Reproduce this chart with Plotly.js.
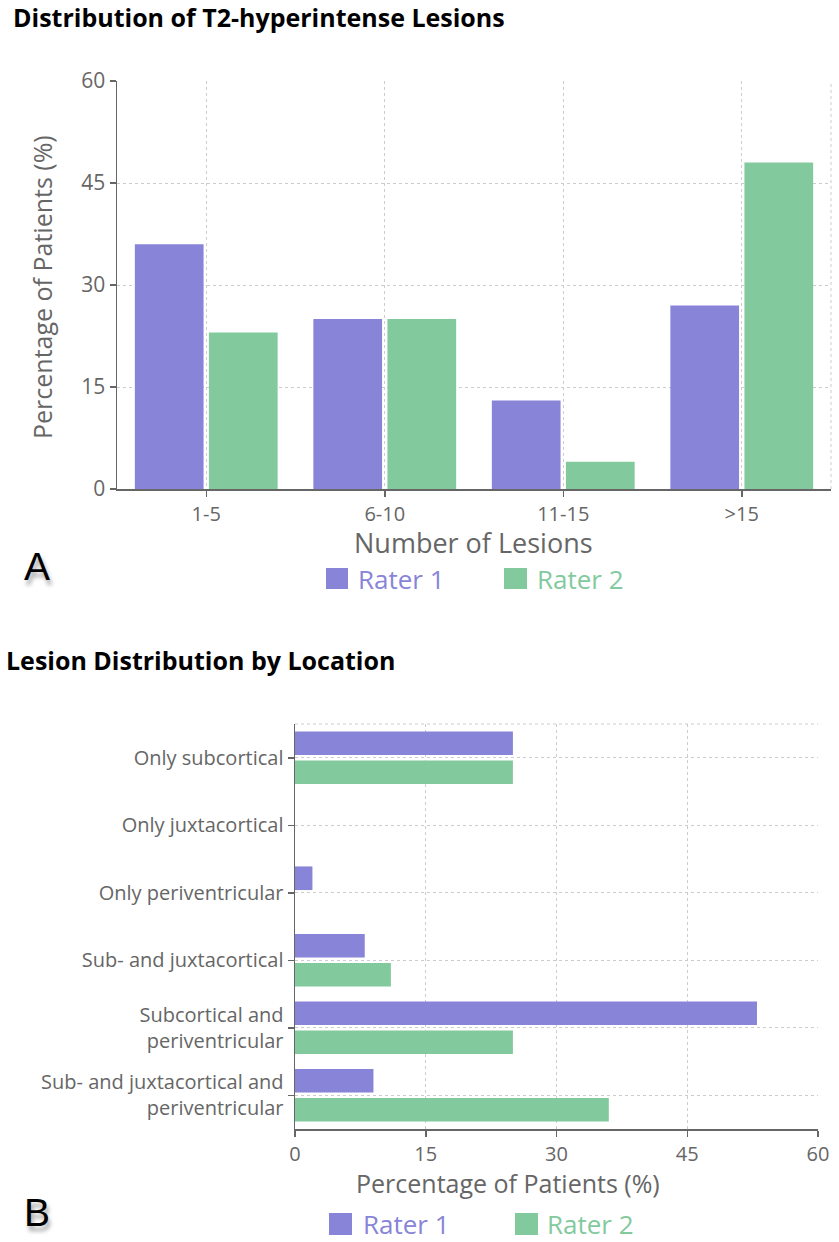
<!DOCTYPE html>
<html>
<head>
<meta charset="utf-8">
<script src="https://cdn.plot.ly/plotly-3.0.1.min.js"></script>
<style>
  html, body { margin: 0; padding: 0; background: #ffffff; }
  #chart { width: 839px; height: 1242px; }
</style>
</head>
<body>
<div id="chart"></div>
<script>
// ---------------- DATA ----------------
const lesionCountCategories = ['1-5', '6-10', '11-15', '>15'];
const lesionCountRater1 = [36, 25, 13, 27];
const lesionCountRater2 = [23, 25, 4, 48];

const locationCategories = [
  'Only subcortical',
  'Only juxtacortical',
  'Only periventricular',
  'Sub- and juxtacortical',
  'Subcortical and periventricular',
  'Sub- and juxtacortical and periventricular'
];
const locationTickLabels = [
  'Only subcortical',
  'Only juxtacortical',
  'Only periventricular',
  'Sub- and juxtacortical',
  'Subcortical and<br>periventricular',
  'Sub- and juxtacortical and<br>periventricular'
];
const locationRater1 = [25, 0, 2, 8, 53, 9];
const locationRater2 = [25, 0, 0, 11, 25, 36];

const percentTicks = [0, 15, 30, 45, 60];
const seriesNames = ['Rater 1', 'Rater 2'];

// ---------------- STYLE / LAYOUT ----------------
const W = 839, H = 1242;
const X = p => p / W;          // pixel -> paper x
const Y = p => 1 - p / H;      // pixel -> paper y
const C1 = '#8884d8', C2 = '#82ca9d';
const AXIS = '#666666', GRID = '#cccccc', FONT = 'Open Sans, Noto Sans, sans-serif';

// Panel A geometry
const aLeft = 117, aRight = 831, aTop = 81, aBottom = 489;
// Panel B geometry
const bLeft = 295, bRight = 818, bTop = 724, bBottom = 1129;

const traces = [
  { type: 'bar', name: seriesNames[0], x: lesionCountCategories, y: lesionCountRater1,
    xaxis: 'x', yaxis: 'y', marker: { color: C1 }, width: 0.385, offset: -0.40,
    showlegend: false, hoverinfo: 'x+y' },
  { type: 'bar', name: seriesNames[1], x: lesionCountCategories, y: lesionCountRater2,
    xaxis: 'x', yaxis: 'y', marker: { color: C2 }, width: 0.385, offset: 0.015,
    showlegend: false, hoverinfo: 'x+y' },
  { type: 'bar', orientation: 'h', name: seriesNames[0], y: locationCategories, x: locationRater1,
    xaxis: 'x2', yaxis: 'y2', marker: { color: C1 }, width: 0.35, offset: -0.39,
    showlegend: false, hoverinfo: 'x+y' },
  { type: 'bar', orientation: 'h', name: seriesNames[1], y: locationCategories, x: locationRater2,
    xaxis: 'x2', yaxis: 'y2', marker: { color: C2 }, width: 0.35, offset: 0.04,
    showlegend: false, hoverinfo: 'x+y' }
];

const commonAxis = {
  showline: true, linecolor: AXIS, linewidth: 1.5,
  ticks: 'outside', ticklen: 6, tickwidth: 1.5, tickcolor: AXIS,
  tickfont: { family: FONT, size: 21, color: AXIS },
  showgrid: true, gridcolor: GRID, griddash: '3px,3px', gridwidth: 1,
  zeroline: false, fixedrange: true
};

const annotations = [
  { text: '<b>Distribution of T2-hyperintense Lesions</b>', x: X(11), y: Y(17),
    xanchor: 'left', yanchor: 'middle', font: { family: FONT, size: 25, color: '#000' } },
  { text: '<b>Lesion Distribution by Location</b>', x: X(4), y: Y(660),
    xanchor: 'left', yanchor: 'middle', font: { family: FONT, size: 25, color: '#000' } },
  { text: 'Number of Lesions', x: X(473), y: Y(543), xanchor: 'center', yanchor: 'middle',
    font: { family: FONT, size: 27, color: AXIS } },
  { text: 'Percentage of Patients (%)', x: X(42), y: Y(287), textangle: -90,
    xanchor: 'center', yanchor: 'middle', font: { family: FONT, size: 25, color: AXIS } },
  { text: 'Percentage of Patients (%)', x: X(508), y: Y(1183), xanchor: 'center', yanchor: 'middle',
    font: { family: FONT, size: 25, color: AXIS } },
  { text: 'A', x: X(37), y: Y(566), xanchor: 'center', yanchor: 'middle',
    font: { family: 'Liberation Sans, Arial, sans-serif', size: 39, color: '#000',
            shadow: '2px 5px 4px rgba(0,0,0,0.35)' } },
  { text: 'B', x: X(37), y: Y(1212), xanchor: 'center', yanchor: 'middle',
    font: { family: 'Liberation Sans, Arial, sans-serif', size: 39, color: '#000',
            shadow: '2px 5px 4px rgba(0,0,0,0.35)' } },
  // legends
  { text: seriesNames[0], x: X(356), y: Y(579), xanchor: 'left', yanchor: 'middle',
    font: { family: FONT, size: 26, color: C1 } },
  { text: seriesNames[1], x: X(535), y: Y(579), xanchor: 'left', yanchor: 'middle',
    font: { family: FONT, size: 26, color: C2 } },
  { text: seriesNames[0], x: X(361), y: Y(1224), xanchor: 'left', yanchor: 'middle',
    font: { family: FONT, size: 26, color: C1 } },
  { text: seriesNames[1], x: X(545), y: Y(1224), xanchor: 'left', yanchor: 'middle',
    font: { family: FONT, size: 26, color: C2 } }
].map(a => Object.assign({ xref: 'paper', yref: 'paper', showarrow: false }, a));

const shapes = [
  // right border of panel A grid
  { type: 'line', xref: 'paper', yref: 'paper', x0: X(aRight), x1: X(aRight), y0: Y(aBottom), y1: Y(aTop),
    line: { color: GRID, width: 1, dash: '3px,3px' } },
  // top border of panel B grid
  { type: 'line', xref: 'paper', yref: 'paper', x0: X(bLeft), x1: X(bRight), y0: Y(bTop), y1: Y(bTop),
    line: { color: GRID, width: 1, dash: '3px,3px' } },
  // legend swatches
  { type: 'rect', xref: 'paper', yref: 'paper', x0: X(326), x1: X(348), y0: Y(589), y1: Y(568),
    fillcolor: C1, line: { width: 0 } },
  { type: 'rect', xref: 'paper', yref: 'paper', x0: X(504), x1: X(527), y0: Y(589), y1: Y(568),
    fillcolor: C2, line: { width: 0 } },
  { type: 'rect', xref: 'paper', yref: 'paper', x0: X(329), x1: X(352), y0: Y(1235), y1: Y(1213),
    fillcolor: C1, line: { width: 0 } },
  { type: 'rect', xref: 'paper', yref: 'paper', x0: X(515), x1: X(538), y0: Y(1235), y1: Y(1213),
    fillcolor: C2, line: { width: 0 } }
];

const layout = {
  width: W, height: H,
  margin: { l: 0, r: 0, t: 0, b: 0, pad: 0 },
  paper_bgcolor: '#ffffff', plot_bgcolor: 'rgba(0,0,0,0)',
  font: { family: FONT, color: AXIS },
  showlegend: false,
  xaxis: Object.assign({}, commonAxis, {
    domain: [X(aLeft), X(aRight)], anchor: 'y', type: 'category',
    categoryorder: 'array', categoryarray: lesionCountCategories, range: [-0.5, 3.5],
    tickfont: { family: FONT, size: 20, color: AXIS }
  }),
  yaxis: Object.assign({}, commonAxis, {
    domain: [Y(aBottom), Y(aTop)], anchor: 'x', range: [0, 60], tickvals: percentTicks
  }),
  xaxis2: Object.assign({}, commonAxis, {
    domain: [X(bLeft), X(bRight)], anchor: 'y2', range: [0, 60], tickvals: percentTicks,
    tickfont: { family: FONT, size: 20, color: AXIS }
  }),
  yaxis2: Object.assign({}, commonAxis, {
    domain: [Y(bBottom), Y(bTop)], anchor: 'x2', type: 'category',
    categoryorder: 'array', categoryarray: locationCategories,
    tickvals: locationCategories, ticktext: locationTickLabels,
    range: [5.5, -0.5], tickfont: { family: FONT, size: 20, color: AXIS }
  }),
  annotations: annotations,
  shapes: shapes
};

Plotly.newPlot('chart', traces, layout, { displayModeBar: false, staticPlot: true });
</script>
</body>
</html>
